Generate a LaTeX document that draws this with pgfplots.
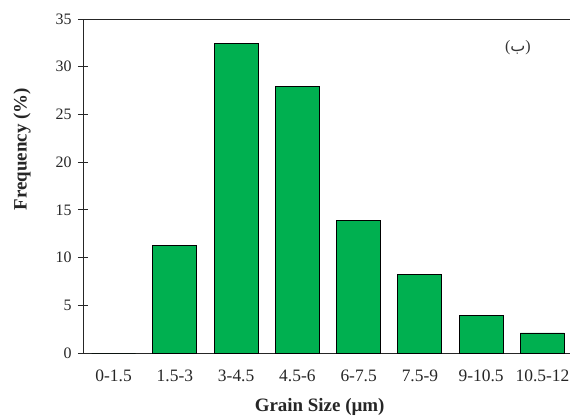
\documentclass[border=0pt]{standalone}
\usepackage{fontspec}
\setmainfont{Liberation Serif}
\newfontfamily\arabicfont[Script=Arabic]{DejaVu Sans}
\usepackage{pgfplots}
\pgfplotsset{compat=1.18}
\definecolor{bargreen}{HTML}{00B050}
\begin{document}
\begin{tikzpicture}
\path[use as bounding box] (-83bp,-66bp) rectangle (488bp,353bp);
\begin{axis}[
  at={(0,0)}, anchor=south west,
  width=487bp, height=334bp, scale only axis,
  xmin=-0.5, xmax=7.45, ymin=0, ymax=35,
  ytick={0,5,...,35},
  xtick={0,...,7},
  xticklabels={0-1.5,1.5-3,3-4.5,4.5-6,6-7.5,7.5-9,9-10.5,10.5-12},
  axis x line*=bottom, axis y line*=left,
  axis line style={line width=0.9bp, black!85},
  major x tick style={draw=none},
  major y tick style={line width=0.9bp, black!85},
  tick align=center, major tick length=10bp,
  /pgf/number format/assume math mode=true,
  yticklabel style={font=\fontsize{16}{18}\selectfont, text=black!85, xshift=-3bp},
  xticklabel style={font=\fontsize{17.5}{19}\selectfont, text=black!85, yshift=-8bp},
  xlabel={\textbf{Grain Size (\textmu m)}},
  ylabel={\textbf{Frequency (\%)}},
  label style={font=\fontsize{19}{21}\selectfont, text=black!85},
  xlabel style={at={(rel axis cs:0.486,0)}, anchor=center, yshift=-54bp},
  ylabel style={at={(rel axis cs:0,0.61)}, anchor=center, yshift=61bp},
  clip=false,
]
\addplot[ybar, bar width=44bp, fill=bargreen, draw=black, line width=0.9bp]
  coordinates {(0,0) (1,11.3) (2,32.45) (3,27.95) (4,13.9) (5,8.2) (6,3.9) (7,2.1)};
\draw[line width=0.9bp, black!85] (rel axis cs:0,1) -- (rel axis cs:1,1);
\node[font=\fontsize{16}{18}\selectfont, text=black!80] at (axis cs:6.6,32.0) {({\arabicfont ب})};
\end{axis}
\end{tikzpicture}
\end{document}
